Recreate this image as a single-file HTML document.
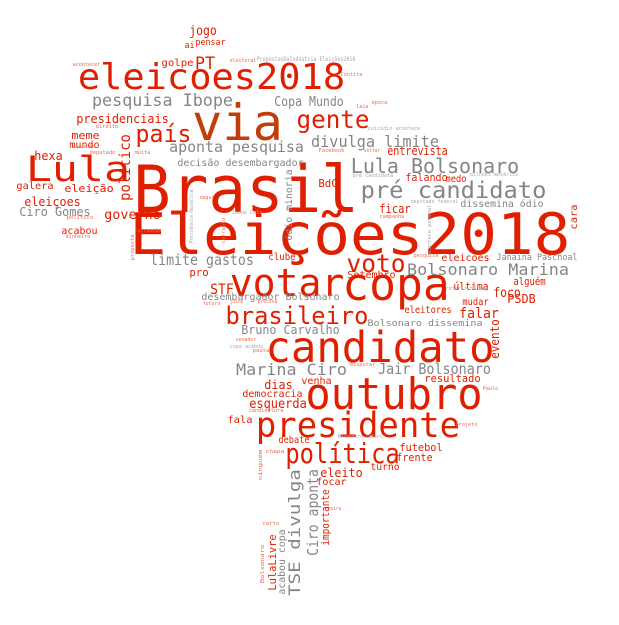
<!DOCTYPE html>
<html><head><meta charset="utf-8"><style>
html,body{margin:0;padding:0;background:#fff;width:619px;height:625px;overflow:hidden}
svg{display:block}
text{font-family:"DejaVu Sans Mono","Liberation Mono",monospace}
</style></head><body>
<svg id="cloud" width="619" height="625" viewBox="0 0 619 625" xmlns="http://www.w3.org/2000/svg"></svg>
<script>
const R='#e01e00',G='#858585',B='#c33c0c',L='#ee6a50',LG='#aaaaaa';
const words=[
["eleicoes2018",80,343,89,36,R,0],
["via",195,280,140,50,B,0],
["Brasil",137,355,212,65,R,0],
["Eleições2018",133,567,254,57,R,0],
["Lula",28,128,181,35,R,0],
["votar",232,342,296,38,R,0],
["copa",345,447,300,45,R,0],
["candidato",268,492,362,43,R,0],
["outubro",308,480,409,44,R,0],
["presidente",258,458,437,35,R,0],
["política",287,398,463,28,R,0],
["brasileiro",227,367,324,24,R,0],
["gente",298,368,128,25,R,0],
["país",137,190,142,24,R,0],
["voto",348,404,272,25,R,0],
["pré candidato",362,545,198,23,G,0],
["Lula Bolsonaro",352,518,173,20,G,0],
["divulga limite",312,438,147,16,G,0],
["pesquisa Ibope",93,232,106,17,G,0],
["Copa Mundo",275,343,106,13,G,0],
["aponta pesquisa",170,303,152,15,G,0],
["decisão desembargador",178,303,166,10,G,0],
["limite gastos",151,253,265,15,G,0],
["Bolsonaro Marina",408,568,275,16,G,0],
["Janaina Paschoal",497,577,260,9,G,0],
["dissemina ódio",461,543,207,10,G,0],
["Marina Ciro",237,346,375,16,G,0],
["Jair Bolsonaro",379,490,374,15,G,0],
["Bruno Carvalho",242,339,334,12,G,0],
["desembargador Bolsonaro",202,339,300,10,G,0],
["Bolsonaro dissemina",368,482,326,9,G,0],
["Ciro Gomes",20,90,216,12,G,0],
["PT",196,214,69,17,R,0],
["jogo",190,216,35,13,R,0],
["pensar",196,225,45,9,R,0],
["ai",185,194,48,9,R,0],
["golpe",162,193,66,10,R,0],
["presidenciais",77,168,123,12,R,0],
["meme",72,99,139,11,R,0],
["mundo",70,99,148,10,R,0],
["hexa",35,62,160,12,R,0],
["galera",17,53,189,10,R,0],
["eleição",65,113,192,11,R,0],
["eleiçoes",25,80,206,12,R,0],
["governo",105,160,219,13,R,0],
["acabou",62,97,234,10,R,0],
["STF",211,233,294,14,R,0],
["pro",190,208,276,11,R,0],
["clube",269,295,260,10,R,0],
["BdC",319,337,187,11,R,0],
["entrevista",388,447,155,12,R,0],
["falando",406,447,181,11,R,0],
["medo",446,466,182,10,R,0],
["ficar",380,410,213,12,R,0],
["Setembro",348,395,278,10,R,0],
["eleicoes",442,489,261,10,R,0],
["última",454,488,290,11,R,0],
["alguém",514,545,285,11,R,0],
["foco",494,520,297,13,R,0],
["PSDB",508,535,303,12,R,0],
["mudar",463,488,305,10,R,0],
["eleitores",405,451,313,10,R,0],
["falar",460,498,318,14,R,0],
["resultado",425,480,382,11,R,0],
["venha",302,331,384,10,R,0],
["dias",265,292,389,12,R,0],
["democracia",243,302,397,10,R,0],
["esquerda",250,306,408,13,R,0],
["fala",228,252,423,10,R,0],
["debate",279,309,443,10,R,0],
["futebol",400,442,451,11,R,0],
["frente",397,432,461,11,R,0],
["eleito",321,362,477,12,R,0],
["turno",371,399,470,10,R,0],
["focar",317,346,485,10,R,0],
["PropostasDaIndústria Eleições2018",257,355,61,6,LG,0],
["acontecer",73,100,66,5,L,0],
["eleitoral",230,256,62,5,L,0],
["Contira",341,362,76,5,L,0],
["época",372,387,104,5,L,0],
["Leia",357,368,108,5,L,0],
["suicídio acontece",368,420,130,5,LG,0],
["Facebook",319,344,152,5,L,0],
["voltar",364,380,152,5,L,0],
["direito",96,118,128,5,L,0],
["assunto",73,95,148,5,L,0],
["deputado",90,115,154,5,L,0],
["muita",135,150,154,5,L,0],
["pré candidata",353,393,177,5,LG,0],
["milhões mesários",470,518,176,5,LG,0],
["deputado federal",411,458,203,5,LG,0],
["campanha",380,404,218,5,L,0],
["corrupção",135,161,232,5,L,0],
["Ibope Lula",232,262,214,5,LG,0],
["dinheiro",66,90,238,5,L,0],
["político",67,93,219,5,L,0],
["daqui",200,214,199,5,L,0],
["pesquisa",414,438,257,5,L,0],
["referir Herzog",446,488,290,5,LG,0],
["precisa",258,277,303,5,L,0],
["juino",230,243,303,5,L,0],
["futuro",203,220,305,5,L,0],
["senador",236,256,341,5,L,0],
["copa acabou",230,263,348,5,LG,0],
["pauta",253,269,352,5,L,0],
["disputar",350,375,366,5,L,0],
["candidatura",249,283,412,5,L,0],
["Bolsonaro referir",338,385,438,5,LG,0],
["projeto",456,477,426,5,L,0],
["Paulo",483,498,390,5,L,0],
["chapa",266,284,453,5,L,0],
["certo",263,279,525,5,L,0],
["teira",328,341,510,5,L,0],
["TSE divulga",300,470,595,16,G,1],
["Ciro aponta",318,470,555,15,G,1],
["político",130,135,200,15,R,1],
["ódio minoria",292,170,240,10,G,1],
["importante",329,490,545,11,R,1],
["LulaLivre",276,535,590,11,R,1],
["acabou copa",285,530,594,10,G,1],
["evento",499,320,358,12,R,1],
["cara",577,205,229,10,R,1],
["Presidência República",193,190,243,5,LG,1],
["corrupto",225,218,243,5,L,1],
["proposta",134,235,260,5,L,1],
["ninguém",262,450,480,5,L,1],
["Bolsonaro",264,545,583,5,L,1],
["acontece pessoal",431,205,255,5,LG,1]
];
const svg=document.getElementById('cloud');
const NS='http://www.w3.org/2000/svg';
words.forEach(w=>{
  const [txt,a,b,c,fs,col,rot]=w;
  const t=document.createElementNS(NS,'text');
  t.textContent=txt;
  t.setAttribute('font-size',fs);
  t.setAttribute('fill',col);
  t.setAttribute('lengthAdjust','spacingAndGlyphs');
  if(!rot){
    t.setAttribute('x',a-0.06*fs);
    t.setAttribute('y',c);
    t.setAttribute('textLength',(b-a)+0.12*fs);
  }else{
    t.setAttribute('x',0);t.setAttribute('y',0);
    t.setAttribute('transform','translate('+a+','+(c+0.06*fs)+') rotate(-90)');
    t.setAttribute('textLength',(c-b)+0.12*fs);
  }
  
  
  svg.appendChild(t);
});
</script>
</body></html>
